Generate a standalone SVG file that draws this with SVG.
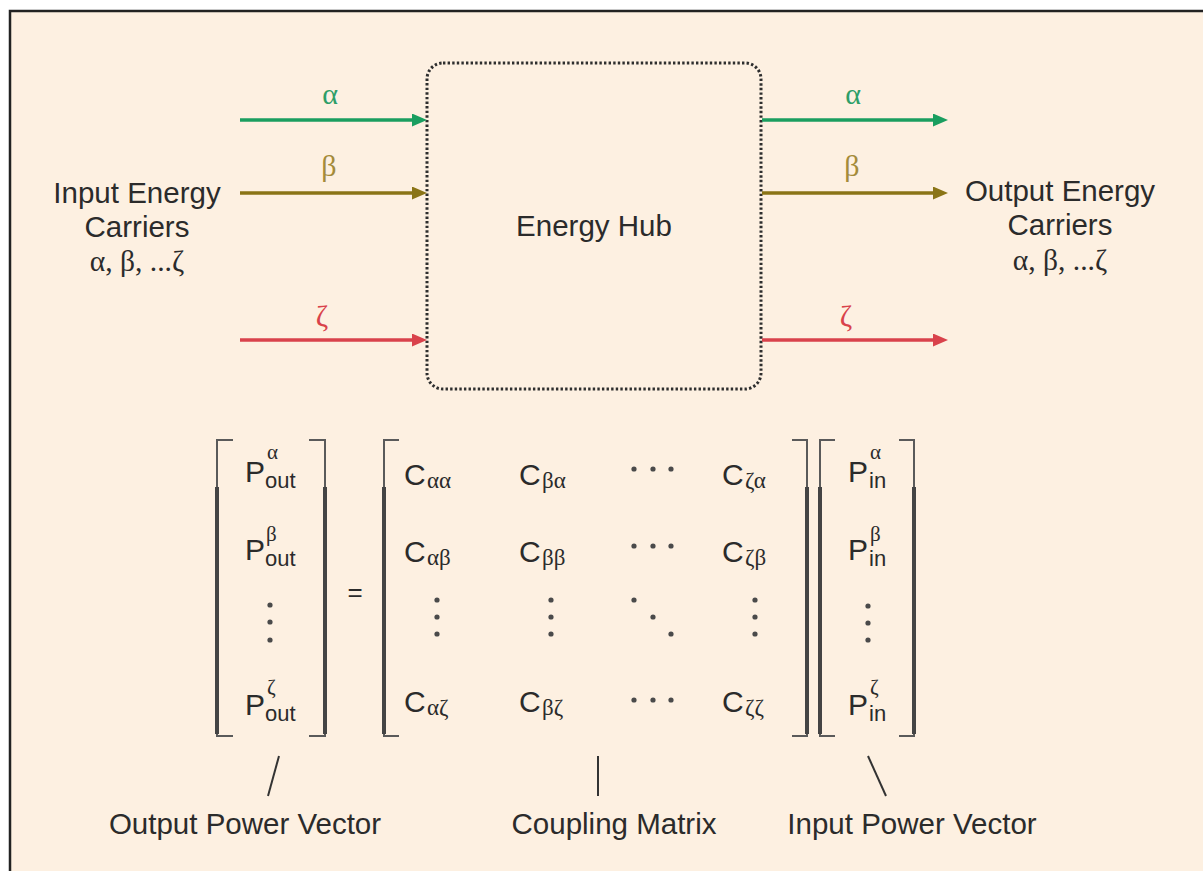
<svg xmlns="http://www.w3.org/2000/svg" width="1203" height="871" viewBox="0 0 1203 871">
<style>
.sans{font-family:"Liberation Sans",Arial,sans-serif;fill:#2b2b2b}
.serif{font-family:"Liberation Serif","Times New Roman",serif;fill:#2b2b2b}
.lbl{font-size:29.5px}
.big{font-size:30px}
.sub{font-size:22px}
.gsub{font-size:23px}
.gsup{font-size:21px}
.br{fill:none;stroke:#5a5a5a;stroke-width:2}
.brk{stroke:#444;stroke-width:4}
.dot{fill:#4a4a4a}
.ptr{stroke:#333;stroke-width:2}
</style>
<defs>
<marker id="ag" markerUnits="userSpaceOnUse" markerWidth="15" markerHeight="13" refX="0" refY="6.5" orient="auto"><path d="M0,0 L15,6.5 L0,13 z" fill="#1a9e5f"/></marker>
<marker id="ab" markerUnits="userSpaceOnUse" markerWidth="15" markerHeight="13" refX="0" refY="6.5" orient="auto"><path d="M0,0 L15,6.5 L0,13 z" fill="#8a7416"/></marker>
<marker id="ar" markerUnits="userSpaceOnUse" markerWidth="15" markerHeight="13" refX="0" refY="6.5" orient="auto"><path d="M0,0 L15,6.5 L0,13 z" fill="#d9424b"/></marker>
</defs>
<rect x="0" y="0" width="1203" height="871" fill="#ffffff"/>
<rect x="10" y="11" width="1200" height="870" fill="#fdf0e1"/>
<path d="M10,871 V11 H1203" fill="none" stroke="#222" stroke-width="2.5"/>

<g id="input-label">
<text class="sans lbl" x="137" y="203" text-anchor="middle">Input Energy</text>
<text class="sans lbl" x="137" y="237" text-anchor="middle">Carriers</text>
<text class="serif lbl" x="137" y="271" text-anchor="middle">α, β, ...ζ</text>
</g>
<g id="energy-hub">
<rect x="427" y="63" width="334" height="326" rx="16" ry="16" fill="none" stroke="#2e2e2e" stroke-width="3" stroke-dasharray="2.4 2.2"/>
<text class="sans lbl" x="594" y="236" text-anchor="middle">Energy Hub</text>
</g>
<g id="output-label">
<text class="sans lbl" x="1060" y="201" text-anchor="middle">Output Energy</text>
<text class="sans lbl" x="1060" y="235" text-anchor="middle">Carriers</text>
<text class="serif lbl" x="1060" y="270" text-anchor="middle">α, β, ...ζ</text>
</g>

<g id="connectors" stroke-width="3.5" fill="none">
<line x1="240" y1="120" x2="412" y2="120" stroke="#1a9e5f" marker-end="url(#ag)"/>
<line x1="240" y1="193" x2="412" y2="193" stroke="#8a7416" marker-end="url(#ab)"/>
<line x1="240" y1="340" x2="412" y2="340" stroke="#d9424b" marker-end="url(#ar)"/>
<line x1="762" y1="120" x2="933" y2="120" stroke="#1a9e5f" marker-end="url(#ag)"/>
<line x1="762" y1="193" x2="933" y2="193" stroke="#8a7416" marker-end="url(#ab)"/>
<line x1="762" y1="340" x2="933" y2="340" stroke="#d9424b" marker-end="url(#ar)"/>
</g>
<g id="arrow-labels" class="serif" font-size="30" text-anchor="middle">
<text x="330" y="104" fill="#2e9e68">α</text>
<text x="329" y="176" fill="#a48b3a">β</text>
<text x="322" y="326" fill="#d9424b">ζ</text>
<text x="853" y="104" fill="#2e9e68">α</text>
<text x="852" y="176" fill="#a48b3a">β</text>
<text x="846" y="326" fill="#d9424b">ζ</text>
</g>

<g id="output-vector">
<path class="br" d="M233,440 H217 V736 H233"/>
<path class="br" d="M309,440 H325 V736 H309"/>
<line class="brk" x1="217" y1="487" x2="217" y2="734"/>
<line class="brk" x1="325" y1="487" x2="325" y2="734"/>
<text class="sans big" x="245" y="482">P</text><text class="sans sub" x="265" y="488">out</text><text class="serif gsup" x="267" y="459">α</text>
<text class="sans big" x="245" y="560">P</text><text class="sans sub" x="265" y="566">out</text><text class="serif gsup" x="266" y="541">β</text>
<circle class="dot" cx="270" cy="605" r="2.6"/><circle class="dot" cx="270" cy="622" r="2.6"/><circle class="dot" cx="270" cy="640" r="2.6"/>
<text class="sans big" x="245" y="715">P</text><text class="sans sub" x="265" y="721">out</text><text class="serif gsup" x="267" y="694">ζ</text>
</g>

<g id="equals">
<text class="sans" font-size="26" x="355" y="601" text-anchor="middle">=</text>
</g>

<g id="coupling-matrix">
<path class="br" d="M399,440 H384 V736 H399"/>
<path class="br" d="M792,440 H807 V736 H792"/>
<line class="brk" x1="384" y1="487" x2="384" y2="734"/>
<line class="brk" x1="807" y1="487" x2="807" y2="734"/>
<text class="sans big" x="404" y="485">C</text><text class="serif gsub" x="427" y="488">αα</text>
<text class="sans big" x="519" y="485">C</text><text class="serif gsub" x="542" y="488">βα</text>
<circle class="dot" cx="634" cy="469" r="2.6"/><circle class="dot" cx="653" cy="469" r="2.6"/><circle class="dot" cx="671" cy="469" r="2.6"/>
<text class="sans big" x="722" y="485">C</text><text class="serif gsub" x="745" y="488">ζα</text>

<text class="sans big" x="404" y="562">C</text><text class="serif gsub" x="427" y="565">αβ</text>
<text class="sans big" x="519" y="562">C</text><text class="serif gsub" x="542" y="565">ββ</text>
<circle class="dot" cx="634" cy="546" r="2.6"/><circle class="dot" cx="653" cy="546" r="2.6"/><circle class="dot" cx="671" cy="546" r="2.6"/>
<text class="sans big" x="722" y="562">C</text><text class="serif gsub" x="745" y="565">ζβ</text>

<circle class="dot" cx="437" cy="600" r="2.6"/><circle class="dot" cx="437" cy="617" r="2.6"/><circle class="dot" cx="437" cy="634" r="2.6"/>
<circle class="dot" cx="551" cy="600" r="2.6"/><circle class="dot" cx="551" cy="617" r="2.6"/><circle class="dot" cx="551" cy="634" r="2.6"/>
<circle class="dot" cx="634" cy="600" r="2.6"/><circle class="dot" cx="653" cy="617" r="2.6"/><circle class="dot" cx="671" cy="634" r="2.6"/>
<circle class="dot" cx="755" cy="600" r="2.6"/><circle class="dot" cx="755" cy="617" r="2.6"/><circle class="dot" cx="755" cy="634" r="2.6"/>

<text class="sans big" x="404" y="712">C</text><text class="serif gsub" x="427" y="715">αζ</text>
<text class="sans big" x="519" y="712">C</text><text class="serif gsub" x="542" y="715">βζ</text>
<circle class="dot" cx="634" cy="700" r="2.6"/><circle class="dot" cx="653" cy="700" r="2.6"/><circle class="dot" cx="671" cy="700" r="2.6"/>
<text class="sans big" x="722" y="712">C</text><text class="serif gsub" x="745" y="715">ζζ</text>
</g>

<g id="input-vector">
<path class="br" d="M835,440 H820 V736 H835"/>
<path class="br" d="M899,440 H914 V736 H899"/>
<line class="brk" x1="820" y1="487" x2="820" y2="734"/>
<line class="brk" x1="914" y1="487" x2="914" y2="734"/>
<text class="sans big" x="848" y="482">P</text><text class="sans sub" x="869" y="488">in</text><text class="serif gsup" x="870" y="459">α</text>
<text class="sans big" x="848" y="560">P</text><text class="sans sub" x="869" y="566">in</text><text class="serif gsup" x="870" y="541">β</text>
<circle class="dot" cx="868" cy="606" r="2.6"/><circle class="dot" cx="868" cy="623" r="2.6"/><circle class="dot" cx="868" cy="640" r="2.6"/>
<text class="sans big" x="848" y="715">P</text><text class="sans sub" x="869" y="721">in</text><text class="serif gsup" x="870" y="694">ζ</text>
</g>

<g id="pointers">
<line class="ptr" x1="279" y1="756" x2="268" y2="796"/>
<line class="ptr" x1="598" y1="756" x2="598" y2="796"/>
<line class="ptr" x1="868" y1="756" x2="886" y2="796"/>
</g>
<g id="bottom-labels">
<text class="sans lbl" x="245" y="834" text-anchor="middle">Output Power Vector</text>
<text class="sans lbl" x="614" y="834" text-anchor="middle">Coupling Matrix</text>
<text class="sans lbl" x="912" y="834" text-anchor="middle">Input Power Vector</text>
</g>
</svg>
